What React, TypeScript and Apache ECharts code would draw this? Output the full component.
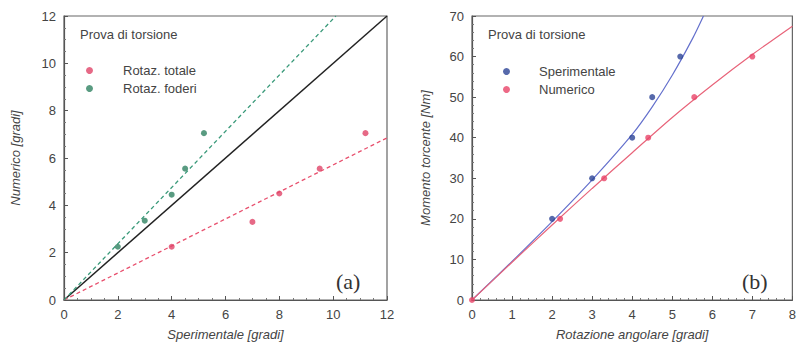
import React, { useEffect, useRef } from "react";
import * as echarts from "echarts";

// Panel (a)
const totaleX = [4, 7, 8, 9.5, 11.2];
const totaleY = [2.25, 3.3, 4.5, 5.55, 7.05];
const foderiX = [2, 3, 4, 4.5, 5.2];
const foderiY = [2.25, 3.35, 4.45, 5.55, 7.05];
const totaleFit: [number, number][] = [[0, 0], [12, 6.85]];
const foderiFit: [number, number][] = [[0, 0], [10.1, 12]];
const identityLine: [number, number][] = [[0, 0], [12, 12]];

// Panel (b)
const speriX = [2, 3, 4, 4.5, 5.2];
const speriY = [20, 30, 40, 50, 60];
const numX = [0, 2.2, 3.3, 4.4, 5.55, 7.0];
const numY = [0, 20, 30, 40, 50, 60];
const speriFit: [number, number][] = [[0, 0], [1, 9.5], [2, 19.3], [3, 29.6], [4, 40.8], [4.5, 47.6], [5, 55.4], [5.5, 64.3], [5.78, 70]];
const numFit: [number, number][] = [[0, 0], [1, 9.3], [2, 18.5], [3, 27.5], [4, 36.3], [5, 45], [6, 53], [7, 60.5], [8, 67.5]];

const zip = (xs: number[], ys: number[]) => xs.map((x, i) => [x, ys[i]]);

const FONT = "'Liberation Sans', Arial, sans-serif";

export default function App() {
  const ref = useRef<HTMLDivElement>(null);
  useEffect(() => {
    document.body.style.margin = "0";
    const chart = echarts.init(ref.current!, null, { renderer: "svg" });
    const axisCommon = {
      axisLine: { show: true, onZero: false, lineStyle: { color: "#555", width: 1.2 } },
      axisTick: { show: true, inside: true, length: 4, lineStyle: { color: "#555" } },
      minorTick: { show: true, length: 2, lineStyle: { color: "#777" } },
      splitLine: { show: false },
      axisLabel: { color: "#444", fontSize: 13, fontFamily: FONT, margin: 8 },
      nameTextStyle: { color: "#444", fontSize: 13, fontStyle: "italic", fontFamily: FONT },
      nameLocation: "middle" as const,
    };
    chart.setOption({
      animation: false,
      backgroundColor: "#fff",
      grid: [
        { left: 64, top: 16, width: 323, height: 287, show: true, borderColor: "#666", borderWidth: 1.2 },
        { left: 472, top: 16, width: 325, height: 287, show: true, borderColor: "#666", borderWidth: 1.2 },
      ],
      xAxis: [
        { ...axisCommon, type: "value", gridIndex: 0, min: 0, max: 12, interval: 2, minorTick: { ...axisCommon.minorTick, splitNumber: 4 }, name: "Sperimentale [gradi]", nameGap: 28 },
        { ...axisCommon, type: "value", gridIndex: 1, min: 0, max: 8, interval: 1, minorTick: { ...axisCommon.minorTick, splitNumber: 5 }, name: "Rotazione angolare [gradi]", nameGap: 28 },
      ],
      yAxis: [
        { ...axisCommon, type: "value", gridIndex: 0, min: 0, max: 12, interval: 2, minorTick: { ...axisCommon.minorTick, splitNumber: 4 }, name: "Numerico [gradi]", nameGap: 42 },
        { ...axisCommon, type: "value", gridIndex: 1, min: 0, max: 70, interval: 10, minorTick: { ...axisCommon.minorTick, splitNumber: 5 }, name: "Momento torcente [Nm]", nameGap: 40 },
      ],
      legend: [
        {
          orient: "vertical", left: 81, top: 59, itemGap: 5, itemWidth: 7, itemHeight: 7, icon: "circle",
          data: ["Rotaz. totale", "Rotaz. foderi"],
          textStyle: { color: "#444", fontSize: 13, fontFamily: FONT, padding: [0, 0, 0, 25] },
        },
        {
          orient: "vertical", left: 498, top: 60, itemGap: 5, itemWidth: 7, itemHeight: 7, icon: "circle",
          data: ["Sperimentale", "Numerico"],
          textStyle: { color: "#444", fontSize: 13, fontFamily: FONT, padding: [0, 0, 0, 24] },
        },
      ],
      graphic: [
        { type: "text", left: 80, top: 28, style: { text: "Prova di torsione", fill: "#444", font: `13px ${FONT}` } },
        { type: "text", left: 488, top: 28, style: { text: "Prova di torsione", fill: "#444", font: `13px ${FONT}` } },
        { type: "text", left: 336, top: 270, style: { text: "(a)", fill: "#333", font: "22px 'Liberation Serif', 'DejaVu Serif', serif" } },
        { type: "text", left: 742, top: 270, style: { text: "(b)", fill: "#333", font: "22px 'Liberation Serif', 'DejaVu Serif', serif" } },
      ],
      series: [
        { type: "line", xAxisIndex: 0, yAxisIndex: 0, data: identityLine, showSymbol: false, lineStyle: { color: "#222", width: 1.5 }, z: 2 },
        { type: "line", xAxisIndex: 0, yAxisIndex: 0, data: totaleFit, showSymbol: false, lineStyle: { color: "#e8506e", width: 1.3, type: [4, 3] }, z: 2 },
        { type: "line", xAxisIndex: 0, yAxisIndex: 0, data: foderiFit, showSymbol: false, lineStyle: { color: "#3a9a7a", width: 1.3, type: [4, 3] }, z: 2 },
        { name: "Rotaz. totale", type: "scatter", xAxisIndex: 0, yAxisIndex: 0, data: zip(totaleX, totaleY), symbolSize: 6, itemStyle: { color: "#e04468" }, z: 3 },
        { name: "Rotaz. foderi", type: "scatter", xAxisIndex: 0, yAxisIndex: 0, data: zip(foderiX, foderiY), symbolSize: 6, itemStyle: { color: "#2f8262" }, z: 3 },
        { type: "line", xAxisIndex: 1, yAxisIndex: 1, data: speriFit, smooth: 0.3, showSymbol: false, lineStyle: { color: "#6470cc", width: 1.2 }, z: 2 },
        { type: "line", xAxisIndex: 1, yAxisIndex: 1, data: numFit, smooth: 0.3, showSymbol: false, lineStyle: { color: "#e8647a", width: 1.2 }, z: 2 },
        { name: "Sperimentale", type: "scatter", xAxisIndex: 1, yAxisIndex: 1, data: zip(speriX, speriY), symbolSize: 6, itemStyle: { color: "#2c4496" }, z: 3 },
        { name: "Numerico", type: "scatter", xAxisIndex: 1, yAxisIndex: 1, data: zip(numX, numY), symbolSize: 6, itemStyle: { color: "#e84468" }, z: 3 },
      ],
    });
    return () => chart.dispose();
  }, []);
  return <div ref={ref} style={{ width: 799, height: 346 }} />;
}
